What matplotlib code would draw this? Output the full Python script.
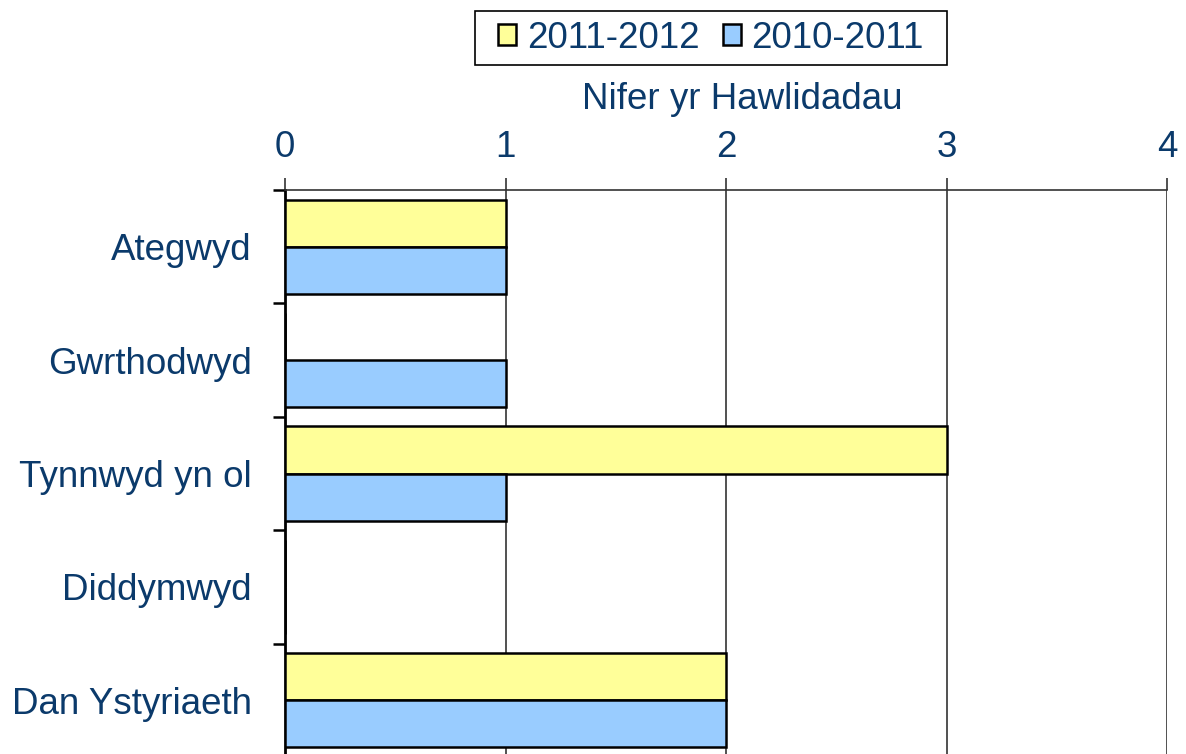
#! /usr/bin/env python

import matplotlib

matplotlib.use("Agg")
import matplotlib.pyplot as plt
import numpy as np
from matplotlib.patches import Rectangle

categories = ["Ategwyd", "Gwrthodwyd", "Tynnwyd yn ol", "Diddymwyd", "Dan Ystyriaeth"]
series_names = ["2011-2012", "2010-2011"]
values_2011_2012 = [1, 0, 3, 0, 2]
values_2010_2011 = [1, 1, 1, 0, 2]
x_ticks = [0, 1, 2, 3, 4]

TEXT = "#0b3a6b"
YELLOW = "#ffff99"
BLUE = "#99ccff"
FS = 26.5

plt.rcParams["font.family"] = ["Liberation Sans", "DejaVu Sans"]


def main():
    W, H = 1186, 754
    fig = plt.figure(figsize=(W / 100, H / 100), dpi=100)
    ax = fig.add_axes([285 / W, 1 - 757 / H, 882 / W, 567 / H])

    pos = np.arange(len(categories))
    h = 0.415
    ax.barh(pos - h / 2, values_2011_2012, height=h, color=YELLOW,
            edgecolor="black", linewidth=1.8, label=series_names[0], zorder=3)
    ax.barh(pos + h / 2, values_2010_2011, height=h, color=BLUE,
            edgecolor="black", linewidth=1.8, label=series_names[1], zorder=3)

    ax.set_xlim(0, 4)
    ax.set_ylim(len(categories) - 0.5, -0.5)

    ax.xaxis.tick_top()
    ax.set_xticks(x_ticks)
    ax.set_xticklabels([str(t) for t in x_ticks])
    ax.tick_params(axis="x", which="major", length=8.6, width=1.2, color="#333333",
                   pad=9.5, labelsize=FS, labelcolor=TEXT)
    ax.grid(axis="x", color="#333333", linewidth=1.2, zorder=0)

    ax.set_yticks(pos)
    ax.set_yticklabels(categories)
    ax.set_yticks(np.arange(len(categories) + 1) - 0.5, minor=True)
    ax.tick_params(axis="y", which="major", length=0, pad=24, labelsize=FS,
                   labelcolor=TEXT)
    ax.tick_params(axis="y", which="minor", length=8.6, width=1.8, color="black")

    ax.spines["right"].set_visible(False)
    ax.spines["bottom"].set_visible(False)
    ax.spines["left"].set_linewidth(2)
    ax.spines["top"].set_linewidth(1.2)
    ax.spines["top"].set_color("#333333")

    ax.set_xlabel("Nifer yr Hawlidadau", fontsize=FS, color=TEXT)
    ax.xaxis.set_label_position("top")
    ax.xaxis.set_label_coords(0.518, 1.143)

    # legend without its own frame, box drawn separately for wider side padding
    leg = fig.legend(loc="center", bbox_to_anchor=(711 / W, 1 - 38 / H),
                     ncol=2, fontsize=FS, frameon=False,
                     handlelength=0.49, handleheight=0.49, handletextpad=0.3,
                     columnspacing=0.62, borderpad=0.2, borderaxespad=0)
    for t in leg.get_texts():
        t.set_color(TEXT)
    fig.patches.append(Rectangle((475 / W, 1 - 65 / H), 472 / W, 54 / H,
                                 transform=fig.transFigure, fill=False,
                                 edgecolor="black", linewidth=1.2))

    fig.savefig("out.png", dpi=100)


if __name__ == "__main__":
    main()
